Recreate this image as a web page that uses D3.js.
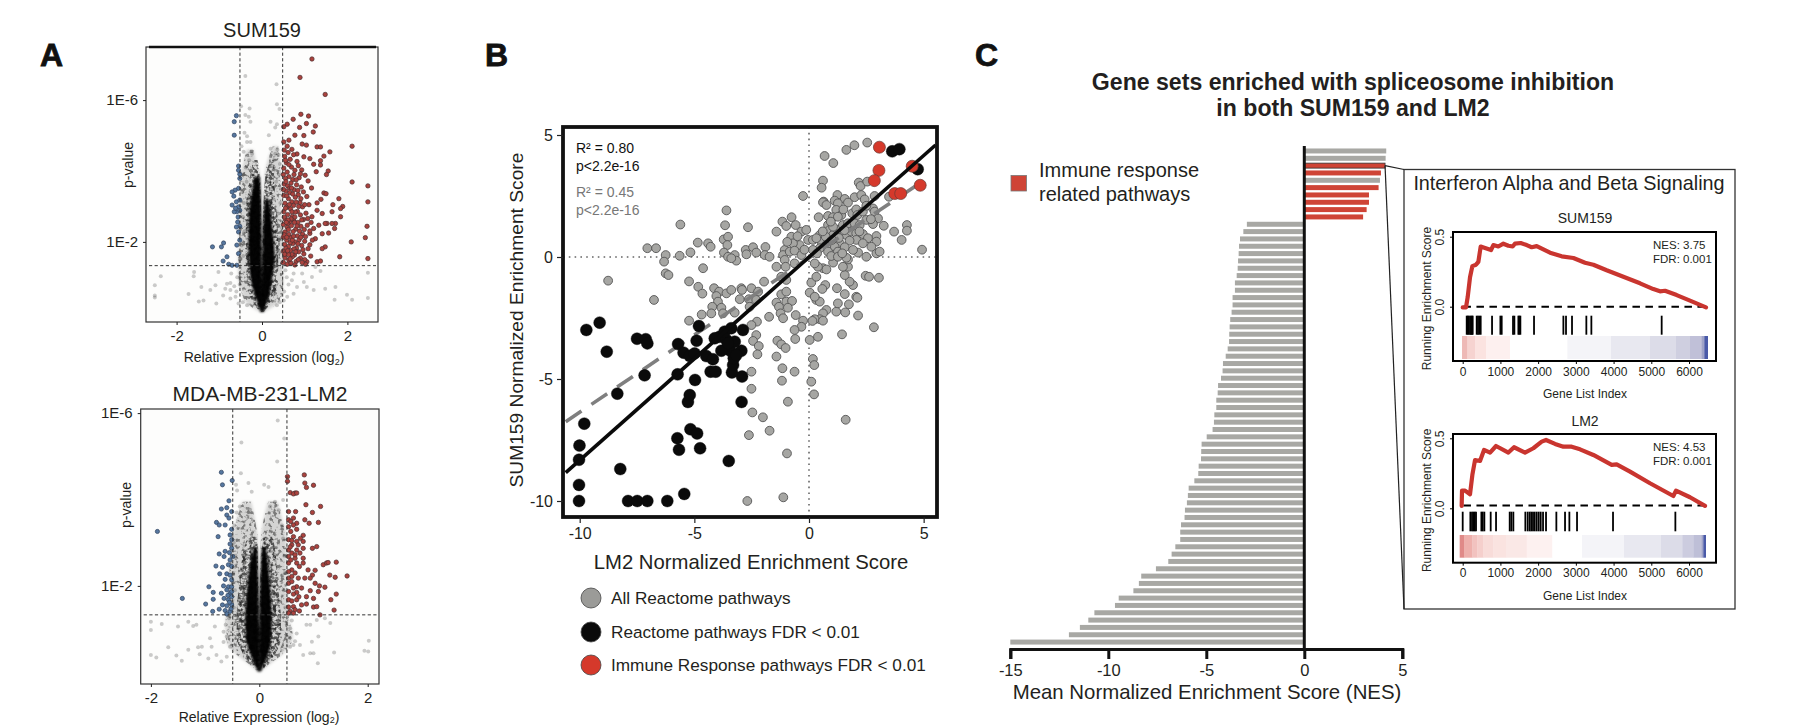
<!DOCTYPE html>
<html><head><meta charset="utf-8">
<script src="https://cdn.jsdelivr.net/npm/d3@7"></script>
<style>html,body{margin:0;padding:0;background:#fff;overflow:hidden}svg{display:block}text{font-family:"Liberation Sans",Arial,sans-serif;fill:#231f20}</style>
</head><body><svg id="c" width="1798" height="726"></svg>
<script>
// ---------- Panel A: volcano plots (log2 fold change, -log10 p) ----------
const volTicksX1=[-2,0,2], volTicksX2=[-2,0,2], volTicksY=[2,6], volTickLabels={2:"1E-2",6:"1E-6"};
const volCut={p:1.33,fc1:[-0.516,0.484],fc2:[-0.49,0.51]};
// density envelopes of the saturated cloud [y, outer x, inner x]
const sumCloudL=[
 [[.02,-.04,0],[.26,-.35,0],[.54,-.47,0],[1.01,-.55,-.01],[1.48,-.56,-.01],[1.95,-.54,-.02],[2.89,-.52,-.03],[3.84,-.5,-.04],[4.31,-.42,-.15],[4.6,-.36,-.2]],
 [[.1,-.1,0],[.54,-.3,0],[1.01,-.36,0],[1.95,-.38,-.01],[2.89,-.37,-.02],[3.36,-.33,-.03],[3.84,-.28,-.05],[4.31,-.2,-.1]],
 [[.02,-.04,0],[.26,-.1,0],[.54,-.18,0],[1.01,-.27,-.005],[1.95,-.32,-.01],[2.89,-.3,-.02],[3.36,-.24,-.03],[3.84,-.17,-.05]]];
const sumCloudR=[
 [[.02,.04,0],[.26,.35,0],[.54,.47,0],[1.01,.5,0],[1.95,.5,.01],[2.89,.45,.03],[3.84,.45,.06],[4.31,.42,.14],[4.7,.38,.25]],
 [[.1,.1,0],[.54,.3,0],[1.01,.38,0],[1.95,.38,.01],[2.89,.34,.03],[3.36,.3,.05],[3.84,.28,.08],[4.31,.3,.2]],
 [[.02,.04,0],[.26,.1,0],[.54,.18,0],[1.01,.24,0],[1.48,.3,.01],[1.95,.28,.02],[2.42,.24,.03],[2.89,.2,.05],[3.2,.16,.07]]];
const lmCloudL=[
 [[.02,-.03,0],[.2,-.2,0],[.44,-.45,0],[.83,-.62,0],[1.21,-.62,-.01],[1.6,-.55,-.01],[2.37,-.55,-.02],[3.14,-.5,-.03],[3.53,-.42,-.08],[3.95,-.32,-.15]],
 [[.1,-.08,0],[.44,-.3,0],[.83,-.42,0],[1.21,-.42,-.01],[1.98,-.38,-.02],[2.76,-.3,-.03],[3.14,-.22,-.05]],
 [[.02,-.03,0],[.2,-.09,0],[.44,-.17,0],[.83,-.25,-.003],[1.21,-.26,-.01],[1.98,-.22,-.02],[2.5,-.17,-.03],[2.9,-.1,-.04]]];
const lmCloudR=[
 [[.02,.03,0],[.2,.2,0],[.44,.45,0],[.83,.62,0],[1.21,.55,.005],[1.6,.52,.01],[2.37,.5,.02],[3.14,.5,.03],[3.53,.42,.08],[3.95,.34,.16]],
 [[.1,.08,0],[.44,.3,0],[.83,.4,0],[1.21,.4,.005],[1.98,.35,.015],[2.76,.3,.04],[3.14,.25,.08]],
 [[.02,.03,0],[.2,.09,0],[.44,.17,0],[.83,.22,0],[1.21,.23,.005],[1.98,.2,.015],[2.5,.16,.03],[2.9,.12,.05]]];
const sumGrey=[[-.39,6.68],[.34,6.45],[.35,5.88],[-.49,5.83],[-.29,5.76],[.41,5.75],[.2,5.39],[-.39,5.58],[-.31,5.53],[-.27,5.39],[.35,5.32],[.31,5.23],[-.41,5.08],[-.35,4.98],[.16,5.01],[-.27,4.82],[-.35,4.82],[-.48,4.7],[-.23,4.49],[-.43,4.54],[.2,4.63],[.31,4.49],[.39,4.45],[.36,4.6],[.28,4.3],[.42,4.2],[-.3,4.3],[-.38,4.1],[-.44,3.9],[-.36,3.7],[.4,3.9],[.33,3.7],[.44,3.5],[-.47,3.4],[-.42,3.1],[.43,3.1],[.38,2.8],[-.45,2.7],[-.41,2.3],[.46,2.4],[.41,2.1],[-.48,1.9],[-.44,1.6],[.42,1.7],[.47,1.4],
 [-2.37,1.03],[-2.51,.78],[-2.51,.49],[-2.51,.43],[-1.59,1.15],[-1.6,1.03],[-1.72,.53],[-1.42,.73],[-1.48,.32],[-1.37,.35],[-1.07,.26],[-1.21,.64],[-1.09,.78],[-1.02,1.15],[-.91,.49],[-.82,.82],[-.74,.84],[-.72,1.11],[-.86,.68],[-.74,.64],[-.65,.75],[-.62,.45],[-.74,.4],[-.55,.26],[-.35,.21],[.55,1.2],[.74,1.11],[.94,1.11],[1.17,1.01],[1.25,1.29],[1.37,1.18],[.7,.92],[.98,.87],[.82,.73],[1.05,.73],[1.21,.64],[.74,.54],[.59,.45],[.51,.35],[1.48,.68],[1.72,.73],[1.7,.37],[1.99,.51],[2.11,.37],[2.48,1.13],[2.48,.42],[.35,.21],[-.58,1],[-.52,.8],[-.6,.6],[.58,1],[.62,.8],[.52,.6],[.42,.3],[-.45,.3]];
const sumBlue=[[-.6,5.56],[-.65,5.39],[-.65,5.01],[-.55,4.14],[-.55,4.02],[-.52,3.91],[-.52,3.79],[-.55,3.51],[-.63,3.46],[-.7,3.41],[-.66,3.29],[-.6,3.13],[-.7,3.04],[-.55,2.99],[-.59,2.85],[-.65,2.85],[-.57,2.56],[-.52,2.44],[-.6,2.42],[-.55,2.28],[-.52,2.05],[-.59,1.91],[-.9,1.97],[-.95,1.86],[-1.16,1.86],[-.55,1.67],[-.82,1.58],[-.91,1.46],[-.78,1.37],[-.7,1.34],[-.59,1.34],[-.52,2.89],[-.52,3.18],[-.56,2.7],[-.62,2.95]];
const sumRed=[[1.17,7.16],[.89,6.64],[1.48,6.16],[.91,5.6],[1.09,5.55],[.73,5.46],[.59,5.32],[.51,5.25],[1.04,5.34],[.88,5.23],[1.25,5.27],[1.2,5.1],[.98,5],[.77,5.01],[.63,4.87],[.51,4.82],[.59,4.7],[.94,4.76],[1.04,4.73],[1.29,4.68],[1.37,4.68],[2.11,4.7],[1.59,4.54],[1.45,4.42],[1.37,4.29],[1.21,4.19],[1.12,4.35],[.98,4.4],[.82,4.48],[.7,4.61],[.52,4.59],[1.55,4],[1.51,3.9],[1.27,3.98],[1.37,4.17],[2.11,3.69],[2.48,3.58],[2.48,3.13],[2.46,2.44],[2.42,2.12],[2.09,2],[2.48,1.53],[1.82,1.58],[1.8,3.22],[1.66,3.05],[1.89,3],[1.84,2.94],[1.64,2.85],[1.84,2.71],[1.72,2.52],[1.64,2.52],[1.7,2.38],[1.52,2.52],[1.45,3.38],[1.5,3.36],[1.38,3.2],[1.29,3.1],[1.29,2.89],[1.41,2.8],[1.17,2.71],[1.33,2.47],[1.48,2.52],[1.21,2.38],[1.41,2.23],[1.56,2.25],[1.12,2.24],[1.25,2.09],[1.48,1.86],[1.41,1.81],[1.29,1.44],[1.37,1.46],[1.05,1.44],[1.02,1.37],
 [.53,4.41],[.61,4.52],[.57,4.23],[.66,4.33],[.74,4.46],[.51,4.08],[.69,4.11],[.59,3.97],[.82,4.27],[.93,4.03],[.77,4.02],[.63,3.84],[.55,3.79],[.87,3.81],[.72,3.76],[1.01,3.88],[.52,3.63],[.6,3.58],[.68,3.66],[.81,3.61],[.92,3.55],[1.08,3.72],[1.16,3.52],[.56,3.44],[.65,3.39],[.75,3.47],[.85,3.33],[.51,3.31],[.97,3.41],[1.05,3.28],[.62,3.22],[.7,3.13],[.54,3.09],[.78,3.26],[.89,3.11],[.58,2.98],[.67,2.93],[.74,3.03],[.83,2.86],[.95,2.99],[1.1,3.05],[.51,2.85],[.6,2.77],[.71,2.72],[.78,2.84],[.9,2.76],[1.03,2.81],[.55,2.63],[.65,2.57],[.74,2.61],[.84,2.55],[.97,2.63],[.5,2.49],[.59,2.41],[.69,2.46],[.79,2.36],[.91,2.44],[1.06,2.47],[.54,2.28],[.63,2.21],[.73,2.29],[.83,2.17],[.95,2.22],[1.12,2.31],[.5,2.13],[.58,2.05],[.68,2.12],[.77,2],[.87,2.06],[1,2.02],[.53,1.93],[.62,1.87],[.72,1.95],[.81,1.83],[.93,1.9],[1.08,1.81],[.5,1.74],[.58,1.69],[.67,1.76],[.76,1.63],[.86,1.72],[.98,1.66],[.54,1.55],[.63,1.49],[.71,1.58],[.8,1.45],[.9,1.54],[.5,1.42],[.59,1.37],[.68,1.4],[.77,1.35],[.56,3.7],[.64,3.05],[.52,2.7],[.6,2.52],[.52,2.2],[.66,1.98],[.56,1.82],[.7,1.65],[.62,1.64],[.75,1.8],[.82,2.45],[.88,2.3],[.76,2.55],[.7,2.85],[.86,3],[.93,2.62],[.99,2.35],[1.02,2.15],[1.15,2.55],[1.14,1.6],[1.18,2.05],
 [.55,4.3],[.5,3.9],[.58,3.3],[.65,3.52],[.72,3.35],[.8,3.12],[.77,2.7],[.68,2.65],[.62,2.35],[.71,2.05],[.79,1.72],[.85,1.5],[.6,1.75],[.66,1.52],[.55,2.95],[.5,3.48],[.61,2.62],[.53,1.65],[.58,2.13],[.74,2.16],[.84,1.95],[.91,2.13],[.96,1.78],[1,1.5],[.94,1.42],[.69,3.52],[.57,2.55],[.84,3.45],[.91,3.22],[1,3.05],[1.07,2.66],[1.12,1.92],[.75,3.9],[.8,3.75],[.63,4.18],[.85,4.15],[.9,3.92]];
const lmGrey=[[.34,5.83],[-.33,5.32],[.46,5.41],[.33,4.88],[-.34,4.61],[-.2,4.38],[-.43,4.34],[.09,4.34],[.17,4.29],[-.41,4.21],[-.14,4.18],[.44,3.99],[.29,3.95],[-.36,3.84],[-.17,3.76],[.2,3.84],[-.42,3.7],[.36,3.75],[-.46,3.4],[.42,3.4],[-.47,3],[.44,3.1],[-.44,2.7],[.46,2.7],[-.48,2.3],[.47,2.3],[-.45,1.9],[.45,1.9],[-.47,1.5],[.48,1.5],
 [-2,1.17],[-2,.98],[-1.8,1.12],[-2,.4],[-1.9,.34],[-1.68,.58],[-1.53,.39],[-1.43,.27],[-1.5,1.06],[-1.31,1.17],[-1.22,1.07],[-1.16,1.1],[-1.31,.52],[-1.13,.58],[-1.06,.59],[-1.1,.42],[-.94,.32],[-.91,.79],[-.88,.59],[-.82,1.06],[-.79,.4],[-.7,.25],[-.66,.94],[-.6,.83],[-.54,.59],[-.6,.36],[.57,1.02],[.69,.9],[.87,1.1],[.94,1.1],[1.06,1.21],[1.21,1.25],[1.31,1.14],[1.09,.83],[.97,.71],[.75,.63],[.63,.63],[.57,.59],[.81,.4],[.94,.44],[1,.44],[1.08,.21],[1.38,.46],[1.94,.5],[2.01,.48],[2.02,.73],[-.62,1.1],[-.56,1.25],[-.66,.7],[.6,1.2],[.56,.8],[.66,.72]];
const lmBlue=[[-.7,4.63],[-.5,4.44],[-.68,4.34],[-.56,3.97],[-.7,3.78],[-.6,3.81],[-.51,3.72],[-.6,3.64],[-.56,3.57],[-.79,3.47],[-.74,3.41],[-.63,3.41],[-1.88,3.26],[-.51,3.31],[-.54,3.18],[-.76,3.14],[-.51,3.07],[-.54,2.97],[-.51,2.87],[-.63,2.8],[-.74,2.74],[-.55,2.77],[-.49,2.68],[-.65,2.68],[-.54,2.6],[-.8,2.46],[-.68,2.43],[-.57,2.49],[-.51,2.45],[-.73,2.28],[-.6,2.28],[-.54,2.25],[-.51,2.14],[-.63,2.15],[-.93,1.98],[-.85,1.85],[-.66,2],[-.57,1.98],[-.51,1.98],[-.7,1.83],[-.6,1.91],[-.54,1.83],[-.51,1.87],[-1.42,1.71],[-.85,1.69],[-.65,1.71],[-.57,1.68],[-.99,1.58],[-.68,1.56],[-.6,1.54],[-.51,1.56],[-.74,1.46],[-.86,1.41],[-.63,1.43],[-.54,1.41],[-.6,1.35],[-.51,1.75],[-.58,1.78],[-.55,1.62],[-.52,1.47]];
const lmRed=[[.83,4.57],[.52,4.53],[.84,4.38],[1,4.33],[.52,4.42],[.87,4.28],[.57,4.16],[.66,4.15],[.63,4.13],[.69,4.15],[.86,3.88],[1.13,3.84],[.54,3.72],[.98,3.7],[.67,3.72],[.63,3.57],[.84,3.53],[1.09,3.47],[.92,3.45],[.54,3.53],[.58,3.49],[.69,3.45],[.63,3.41],[.54,3.37],[.69,3.31],[.58,3.26],[.81,3.17],[.63,3.14],[.76,3.1],[.54,3.07],[.69,3.03],[.81,3.03],[.6,2.95],[1.06,2.91],[.98,2.87],[.81,2.87],[.69,2.83],[.54,2.83],[.6,2.76],[.75,2.76],[.54,2.68],[.66,2.64],[.81,2.64],[.69,2.53],[1.18,2.49],[1.24,2.53],[1.27,2.54],[1.42,2.55],[.54,2.53],[.81,2.53],[.6,2.37],[.54,2.33],[.9,2.37],[1.03,2.36],[1.3,2.25],[1.4,2.2],[1.62,2.23],[.98,2.25],[.84,2.18],[.72,2.18],[.54,2.18],[.6,2.22],[.94,2.18],[.54,2.06],[1.03,2.06],[1.11,2],[1.21,1.97],[.69,1.98],[.78,1.95],[.63,1.95],[.54,1.87],[.94,1.89],[.69,1.85],[1.09,1.87],[1.42,1.81],[.63,1.81],[.87,1.75],[1,1.71],[1.32,1.68],[.54,1.68],[.69,1.68],[.78,1.56],[.87,1.58],[.63,1.52],[.54,1.51],[1,1.51],[1.06,1.52],[1.38,1.44],[.57,1.41],[.63,1.37],[1.12,1.33],[.54,1.37],[.6,3.05],[.72,2.95],[.57,2.9],[.66,2.72],[.74,2.45],[.58,2.6],[.66,2.3],[.6,2.1],[.73,1.75],[.6,1.65],[.66,1.45],[.74,1.42]];
// ---------- Panel B: NES scatter (LM2, SUM159) ----------
const nesTicksX=[-10,-5,0,5], nesTicksY=[-10,-5,0,5];
const fitAll=[[-10.61,-8.84],[5.52,4.59]], fitGrey=[[-10.61,-6.75],[5.04,3.16]];
const allPathways=[[1.63,4.39],[1.98,4.58],[2.54,4.69],[.68,4.14],[1.06,3.85],[.61,3.13],[.55,2.84],[-.26,2.5],[2.17,3.05],[2.25,2.91],[2.54,3.09],[.64,2.27],[.61,2.24],[1.24,2.54],[1.12,2.31],[1.56,2.38],[1.99,2.45],[2.28,2.54],[2.43,2.36],[2.86,2.5],[3.49,2.47],[.76,2.13],[1.26,2.2],[1.7,2.23],[.42,1.63],[.83,1.68],[1.19,1.93],[1.41,1.72],[1.05,1.63],[1.89,1.79],[2.06,1.95],[2.11,1.72],[2.35,1.86],[2.79,1.99],[2.86,1.86],[3.01,1.58],[2.79,1.35],[3.26,1.28],[3.71,1.04],[4.27,1.31],[4.27,1.08],[4.04,.7],[4.93,.3],[2.94,.86],[2.94,.63],
[-7.05,.36],[-6.67,.36],[-6.25,.08],[-6.32,-.19],[-5.64,.05],[-5.61,1.33],[-8.76,-.97],[-6.25,-.67],[-6.13,-.74],[-6.76,-1.76],[-5.17,.19],[-4.85,.59],[-4.4,.56],[-4.29,.42],[-5.23,-1],[-4.83,-1.22],[-4.62,-.46],[-4.65,-1.5],[-3.6,1.91],[-3.66,1.3],[-2.66,1.22],[-3.72,.72],[-3.53,.83],[-3.56,.49],[-3.71,.18],[-3.53,.01],[-3.24,.08],[-3.17,-.15],[-3.39,-.05],[-2.76,.29],[-2.73,.11],[-2.44,.4],[-2.3,.18],[-1.9,.41],[-1.93,.08],[-1.72,.01],[-1.42,1.04],[-1.16,1.45],[-.76,1.63],[-.99,1.27],[-.58,1.31],[-.77,.83],[-.33,1.04],[-.12,1.11],[-.04,.7],[-.41,.49],[-.7,.56],[-1.06,.29],[-1.13,.08],[-.84,.22],[-.63,.26],[-.33,.08],[-1.06,-.12],[-1.42,-.4],[-1.02,-.4],[-.63,-.26],[-1.21,-.81],[-.99,-.94],[-1.96,-1.01],
[-4.14,-1.28],[-3.92,-1.42],[-4.04,-1.6],[-3.6,-1.49],[-3.39,-1.35],[-2.95,-1.28],[-2.92,-1.35],[-2.51,-1.28],[-2.22,-1.42],[-3.02,-1.73],[-2.62,-1.73],[-2.3,-1.76],[-3.97,-1.83],[-4.22,-2.04],[-3.82,-2.08],[-4.26,-2.31],[-4.68,-2.36],[-3.75,-2.31],[-3.24,-2.28],[-5.23,-2.61],[-2.59,-2.04],[-1.21,-1.53],[-.99,-1.42],[-1.42,-1.87],[-1.31,-2.04],[-.99,-1.83],[-.74,-1.8],[-.92,-2.08],[-1.24,-2.31],[-1.13,-2.51],[-1.74,-2.45],[-.58,-2.38],[-.26,-2.61],[-.33,-2.86],[-.63,-2.99],[-2.27,-2.65],[-2.51,-2.79],[-2.3,-3.2],[-2.44,-3.44],[-2.19,-3.65],[-2.25,-3.99],[-1.38,-3.43],[-1.21,-3.58],[-1.02,-3.73],[-.6,-3.36],[.03,-3.4],[.39,-3.27],[1.44,-3.17],[2.83,-2.88],
[-1.42,-4.08],[-1.16,-4.56],[-.63,-4.7],[-1.18,-5.07],[-2.51,-4.7],[-2.51,-5.4],[-.92,-5.93],[.17,-4.18],[.23,-4.43],[.1,-5.11],[.22,-5.63],[1.6,-6.67],[-2.47,-6.37],[-2.01,-6.57],[-2.62,-7.3],[-1.72,-7.12],[-.96,-8.05],[-2.69,-10],[-1.12,-9.85],
[.03,-1.46],[.32,-1.76],[.47,-1.83],[.25,-1.63],[.76,-2.17],[.61,-2.31],[.47,-2.55],[.25,-2.55],[.15,-2.62],[.61,-2.61],[1.19,-2.24],[1.26,-1.9],[1.58,-2.27],[1.74,-1.94],[2.14,-2.4],[1.22,-1.28],[1.56,-1.52],[2.06,-1.63],[2.11,-1.67],[1.92,-1.15],[1.77,-1.01],[1.56,-.74],[1.7,-.4],[1.48,-.4],[2.47,-.77],[2.62,-.81],[3.05,-.85],[.71,-1.15],[.58,-1.31],[.1,-1.05],[.32,-.81],[.61,-.46],[.76,-.51],[.39,-.4],[.25,-.26],[1.05,-.23],[1.7,-.1],[1.63,-.03],[2.94,.15],[3.08,.22],[2.5,.01],[2.14,.18],[2.72,.42],
[.17,.7],[.47,.9],[.54,.63],[.83,1.31],[.9,1.11],[1.05,.9],[1.26,1.11],[1.48,1.31],[1.63,.9],[1.85,1.04],[2.06,.97],[2.35,.94],[2.57,.77],[2.06,.7],[1.77,.67],[1.34,.56],[1.12,.42],[.76,.49],[.47,.36],[.83,.22],[1.26,.22],[1.56,.4],[.97,.04],[1.26,.01],[1.92,.29],[2.35,.56],[1.7,1.38],[1.99,1.38],[1.26,1.65],[2.5,1.52],[2.21,1.31],[.73,.83],[.32,.77],[.17,.29],[1.05,1.24],[2.5,2.1],[1.5,1.95],[.95,1.45],[1.55,1.1],[1.3,.78],[2.2,1.05],[2.7,1.55],[.6,1.05],[1,.7],[1.45,.15],[.35,.15],[-.2,.3],[-.5,.85],[-.95,.62]];
const fdrPathways=[[-9.71,-2.99],[-9.13,-2.69],[-8.82,-3.88],[-7.5,-3.35],[-7.12,-3.37],[-7.05,-3.54],[-7.17,-4.85],[-8.36,-5.6],[-9.8,-6.83],[-10.01,-7.73],[-10.03,-8.31],[-10.03,-9.34],[-10.03,-10],[-8.23,-8.69],[-7.89,-10],[-7.49,-10],[-7.05,-10],[-6.18,-10],[-5.44,-9.71],[-3.5,-8.36],[-4.75,-7.84],[-5.67,-7.9],[-5.74,-7.43],[-5.17,-7.06],[-4.88,-7.23],[-5.28,-5.94],[-5.2,-5.66],[-4.97,-5.04],[-5.73,-4.81],[-2.94,-5.94],[-2.92,-4.9],[-3.36,-4.73],[-3.31,-4.43],[-3.28,-4.15],[-2.95,-3.84],[-3.43,-3.84],[-3.82,-3.84],[-3.24,-3.47],[-3.6,-3.4],[-3.9,-3.27],[-4.11,-3.33],[-3.68,-3.06],[-3.39,-2.92],[-2.88,-2.99],[-4.8,-2.83],[-4.9,-3.43],[-5.71,-3.57],[-5.47,-3.92],[-5.2,-4.06],[-4.99,-3.95],[-4.48,-4.06],[-4.19,-4.19],[-4.29,-4.7],[-4.07,-4.7],[-3.53,-3.54],[-3.17,-4.02],[3.63,4.33],[3.94,4.42],[4.74,3.6]];
const immunePathways=[[3.07,4.5],[3.05,3.55],[2.85,3.13],[3.74,2.6],[4,2.6],[4.5,3.72],[4.85,2.94]];
const statText=[["R² = 0.80","#111"],["p<2.2e-16","#111"],["R² = 0.45","#777"],["p<2.2e-16","#777"]];
const legendB=[["All Reactome pathways","#9b9b98"],["Reactome pathways FDR < 0.01","#0a0a0a"],["Immune Response pathways FDR < 0.01","#d5392b"]];
// ---------- Panel C: bars ----------
const barUp=[4.18,4.15,4.12,3.91,3.86,3.79,3.3,3.3,3.18,3.0];
const barUpImmune=[0,0,1,1,0,1,1,1,1,1];
const barDown=[-2.93,-3.11,-3.28,-3.33,-3.35,-3.38,-3.4,-3.45,-3.54,-3.54,-3.66,-3.66,-3.71,-3.78,-3.81,-3.83,-3.84,-3.91,-4.01,-4.15,-4.17,-4.25,-4.4,-4.42,-4.49,-4.49,-4.59,-4.61,-4.68,-4.98,-5.24,-5.26,-5.27,-5.39,-5.41,-5.61,-5.9,-5.94,-5.99,-6.09,-6.11,-6.29,-6.33,-6.33,-6.58,-6.77,-6.94,-7.57,-8.32,-8.44,-8.72,-9.47,-9.66,-10.71,-11.02,-11.45,-12.01,-15];
const barTicks=[-15,-10,-5,0,5];
// ---------- GSEA insets ----------
const gseaTicksX=[0,1000,2000,3000,4000,5000,6000], gseaTicksY=[0,.5];
const sumIdx=[0,88,133,194,256,353,415,477,592,751,813,945,1078,1211,1325,1387,1538,1697,1829,1962,2315,2624,2934,3243,3464,3817,4259,4701,5054,5231,5364,5673,6026,6450];
const sumES=[-.005,-.005,.07,.21,.29,.3,.32,.43,.42,.405,.44,.43,.45,.435,.43,.45,.455,.44,.425,.433,.386,.36,.348,.314,.3,.26,.214,.167,.126,.11,.114,.083,.043,-.005];
const sumHits=[106,133,159,194,221,247,265,371,406,442,477,778,999,1034,1334,1370,1476,1502,1529,1891,2669,2739,2898,3278,3411,5275];
const sumBandEdges=[-18,124,327,619,1255,2775,3932,4966,5655,6026,6336,6406,6495];
const sumBandCols=["#eeb9b6","#f6d3d0","#fbe3e0","#fdf0ef","#ffffff","#f4f4f8","#e8e8f0","#dcdce8","#cfcfe0","#c0c0d8","#9fa3c8","#4a5aa8"];
const lmIdx=[-27,-18,62,194,256,327,459,566,725,884,1211,1361,1652,1873,2094,2209,2448,2669,2889,3110,3464,3950,4082,4436,4966,5584,5655,6026,6424];
const lmES=[.017,.126,.126,.1,.238,.345,.338,.417,.398,.445,.398,.436,.398,.429,.476,.488,.46,.44,.44,.421,.381,.31,.314,.262,.179,.088,.126,.079,.017];
const lmHits=[0,203,247,283,318,353,495,530,574,742,884,1246,1290,1343,1661,1723,1776,1820,1864,1909,1962,2015,2068,2130,2209,2483,2713,2828,3031,3985,5638];
const lmBandEdges=[-80,35,256,389,548,813,1149,1697,2377,3163,4277,5258,5823,6115,6336,6380,6442];
const lmBandCols=["#e08a88","#eeb0ac","#f2c2bf","#f5cfcc","#f8dcd9","#fae3e0","#fae8e6","#fdf1f0","#ffffff","#f4f4f8","#e8e8f0","#dcdce8","#ccccdf","#bebfd7","#9fa3c8","#4a5aa8"];

const svg=d3.select("#c");
const defs=svg.append("defs");
defs.append("filter").attr("id","soft").attr("x","-20%").attr("y","-20%").attr("width","140%").attr("height","140%")
  .append("feGaussianBlur").attr("stdDeviation",.9);
defs.append("filter").attr("id","haze").attr("x","-30%").attr("y","-10%").attr("width","160%").attr("height","120%")
  .append("feGaussianBlur").attr("stdDeviation",1.8);
// grain texture for the unresolved cloud of overlapping points
function grain(id,freq,k,b,seed){
  const f=defs.append("filter").attr("id",id).attr("x","-5%").attr("y","-5%").attr("width","110%").attr("height","110%");
  f.append("feTurbulence").attr("type","fractalNoise").attr("baseFrequency",freq).attr("numOctaves",2).attr("seed",seed).attr("result","n");
  f.append("feColorMatrix").attr("in","n").attr("type","matrix").attr("values",`0 0 0 0 0 0 0 0 0 0 0 0 0 0 0 ${k} 0 0 0 ${b}`).attr("result","m");
  f.append("feComposite").attr("in","SourceGraphic").attr("in2","m").attr("operator","in").attr("result","c");
  f.append("feGaussianBlur").attr("in","c").attr("stdDeviation",.75);
}
grain("g1",.26,6,-3,3);grain("g2",.3,5,-2.1,8);
const txt=(x,y,s,size,opt={})=>{const t=svg.append("text").attr("x",x).attr("y",y).attr("font-size",size).attr("text-anchor",opt.anchor||"start").text(s);
  if(opt.bold)t.attr("font-weight","bold");if(opt.fill)t.style("fill",opt.fill);if(opt.rot!==undefined)t.attr("transform",`rotate(${opt.rot} ${x} ${y})`);return t;};

// letters
[["A",40,66],["B",485,66],["C",975,66]].forEach(([s,x,y])=>txt(x,y,s,32,{bold:1}).style("fill","#111").style("stroke","#111").style("stroke-width",.8));

function volcano(o){
  const x=d3.scaleLinear().domain([(o.L-o.x0)/o.ux,(o.R-o.x0)/o.ux]).range([o.L,o.R]);
  const y=d3.scaleLinear().domain([(o.y0-o.B)/o.uy,(o.y0-o.T)/o.uy]).range([o.B,o.T]);
  const g=svg.append("g");
  g.append("rect").attr("x",o.L).attr("y",o.T).attr("width",o.R-o.L).attr("height",o.B-o.T).attr("fill","#fdfdfc");
  const clip="cl"+o.id;defs.append("clipPath").attr("id",clip).append("rect").attr("x",o.L).attr("y",o.T).attr("width",o.R-o.L).attr("height",o.B-o.T);
  const p=g.append("g").attr("clip-path",`url(#${clip})`);
  const area=d3.area().y(d=>y(d[0])).x0(d=>x(d[1])).x1(d=>x(d[2])).curve(d3.curveMonotoneY);
  // haze under the grain, then grain layers, then the saturated core
  [[0,"url(#haze)",.16],[0,"url(#g1)",.42],[1,"url(#g2)",.6],[2,"url(#soft)",.98]].forEach(([i,f,a])=>{
    const layer=p.append("g").attr("filter",f);
    [o.cloudL,o.cloudR].forEach(side=>layer.append("path").attr("d",area(side[i])).attr("fill","#000").attr("fill-opacity",a));});
  p.selectAll(null).data(o.grey).join("circle").attr("cx",d=>x(d[0])).attr("cy",d=>y(d[1])).attr("r",2).attr("fill","#000").attr("fill-opacity",.2);
  p.selectAll(null).data(o.red).join("circle").attr("cx",d=>x(d[0])).attr("cy",d=>y(d[1])).attr("r",2.2).attr("fill","#ab423d").attr("stroke","#4a2f30").attr("stroke-width",.7);
  p.selectAll(null).data(o.blue).join("circle").attr("cx",d=>x(d[0])).attr("cy",d=>y(d[1])).attr("r",2.1).attr("fill","#56779f").attr("stroke","#30445f").attr("stroke-width",.7);
  o.cut.forEach(c=>p.append("line").attr("x1",x(c)).attr("x2",x(c)).attr("y1",o.T).attr("y2",o.B).attr("stroke","#333").attr("stroke-width",1).attr("stroke-dasharray","3.2 2.4"));
  p.append("line").attr("x1",o.L+3).attr("x2",o.R-2).attr("y1",y(volCut.p)).attr("y2",y(volCut.p)).attr("stroke","#333").attr("stroke-width",1).attr("stroke-dasharray","3.2 2.4");
  g.append("rect").attr("x",o.L).attr("y",o.T).attr("width",o.R-o.L).attr("height",o.B-o.T).attr("fill","none").attr("stroke","#333").attr("stroke-width",1.2);
  if(o.thickTop) g.append("line").attr("x1",o.L+3).attr("x2",o.R-2).attr("y1",o.T).attr("y2",o.T).attr("stroke","#111").attr("stroke-width",2.4);
  const ax=g.append("g").attr("transform",`translate(0,${o.B})`).call(d3.axisBottom(x).tickValues(o.ticksX).tickSize(3).tickPadding(5).tickFormat(d=>d<0?"-"+(-d):d));
  const ay=g.append("g").attr("transform",`translate(${o.L},0)`).call(d3.axisLeft(y).tickValues(volTicksY).tickSize(3).tickPadding(5).tickFormat(d=>volTickLabels[d]));
  [ax,ay].forEach(a=>{a.select(".domain").remove();a.selectAll("text").attr("font-size",15).style("font-family",'"Liberation Sans"');a.selectAll("line").attr("stroke","#222");});
  txt(o.titleX,o.titleY,o.title,o.titleSize,{anchor:"middle"});
  txt(o.pX,o.pY,"p-value",14,{anchor:"middle",rot:-90});
  const t=txt(o.xlX,o.xlY,"Relative Expression (log",14,{anchor:"middle"});
  t.append("tspan").text("2").attr("font-size",9).attr("dy",o.subDy);
  t.append("tspan").text(")").attr("dy",-o.subDy);
}
volcano({id:1,L:146,R:378,T:47,B:322,x0:262,ux:42.7,y0:312.8,uy:35.45,cloudL:sumCloudL,cloudR:sumCloudR,grey:sumGrey,red:sumRed,blue:sumBlue,cut:volCut.fc1,ticksX:volTicksX1,thickTop:1,title:"SUM159",titleSize:20,titleX:262,titleY:37,pX:133,pY:165,xlX:264,xlY:362,subDy:3});
volcano({id:2,L:140.7,R:379,T:409,B:684,x0:259.3,ux:54.2,y0:672.3,uy:43.2,cloudL:lmCloudL,cloudR:lmCloudR,grey:lmGrey,red:lmRed,blue:lmBlue,cut:volCut.fc2,ticksX:volTicksX2,title:"MDA-MB-231-LM2",titleSize:21,titleX:260,titleY:401,pX:131,pY:505,xlX:259,xlY:721.5,subDy:1.5});

// Panel B
(function(){
  const L=563,R=937,T=127,B=517;
  const x=d3.scaleLinear().domain([(L-809)/22.93,(R-809)/22.93]).range([L,R]);
  const y=d3.scaleLinear().domain([(257-B)/24.4,(257-T)/24.4]).range([B,T]);
  const g=svg.append("g");
  defs.append("clipPath").attr("id","clb").append("rect").attr("x",L).attr("y",T).attr("width",R-L).attr("height",B-T);
  const p=g.append("g").attr("clip-path","url(#clb)");
  p.append("line").attr("x1",x(0)).attr("x2",x(0)).attr("y1",T).attr("y2",B).attr("stroke","#666").attr("stroke-width",1.6).attr("stroke-dasharray","1.6 4.2");
  p.append("line").attr("x1",L).attr("x2",R).attr("y1",y(0)).attr("y2",y(0)).attr("stroke","#666").attr("stroke-width",1.6).attr("stroke-dasharray","1.6 4.2");
  const dots=(d,r,f,s,sw)=>p.selectAll(null).data(d).join("circle").attr("cx",v=>x(v[0])).attr("cy",v=>y(v[1])).attr("r",r).attr("fill",f).attr("stroke",s).attr("stroke-width",sw);
  dots(allPathways,4.4,"#a6a6a3","#555",.9);
  const line=d3.line().x(d=>x(d[0])).y(d=>y(d[1]));
  p.append("path").attr("d",line(fitGrey)).attr("stroke","#7f7f7f").attr("stroke-width",3.6).attr("stroke-dasharray","19 12").attr("fill","none");
  dots(fdrPathways,6,"#0a0a0a","#0a0a0a",.4);
  dots(immunePathways,6,"#d5392b","#6a3a33",.7);
  p.append("path").attr("d",line(fitAll)).attr("stroke","#0a0a0a").attr("stroke-width",3.6).attr("fill","none");
  g.append("rect").attr("x",L).attr("y",T).attr("width",R-L).attr("height",B-T).attr("fill","none").attr("stroke","#111").attr("stroke-width",3.8);
  const ax=g.append("g").attr("transform",`translate(0,${B})`).call(d3.axisBottom(x).tickValues(nesTicksX).tickSize(6).tickPadding(5).tickFormat(d=>d<0?"-"+(-d):d));
  const ay=g.append("g").attr("transform",`translate(${L},0)`).call(d3.axisLeft(y).tickValues(nesTicksY).tickSize(6).tickPadding(4).tickFormat(d=>d<0?"-"+(-d):d));
  [ax,ay].forEach(a=>{a.select(".domain").remove();a.selectAll("text").attr("font-size",16).style("font-family",'"Liberation Sans"');a.selectAll("line").attr("stroke","#222").attr("stroke-width",1.2);});
  txt(751,569,"LM2 Normalized Enrichment Score",20.3,{anchor:"middle"});
  txt(523,320,"SUM159 Normalized Enrichment Score",19.2,{anchor:"middle",rot:-90});
  statText.forEach((s,i)=>txt(576,[153,171,197,215][i],s[0],14,{fill:s[1]}));
  legendB.forEach((l,i)=>{const yy=[598,632,665][i];
    g.append("circle").attr("cx",591).attr("cy",yy).attr("r",10).attr("fill",l[1]).attr("stroke","#444").attr("stroke-width",.8);
    txt(611,yy+6,l[0],17.2);});
})();

// Panel C
(function(){
  const x=d3.scaleLinear().domain([-15,5]).range([1010.3,1402.3]);
  const all=barUp.concat(barDown);
  const y=d3.scaleBand().domain(d3.range(all.length)).range([147.3,147.3+7.33*all.length]).paddingInner(.32).paddingOuter(.16);
  svg.append("g").selectAll(null).data(all).join("rect")
    .attr("x",d=>Math.min(x(d),x(0))).attr("width",d=>Math.abs(x(d)-x(0))).attr("y",(d,i)=>y(i)).attr("height",y.bandwidth())
    .attr("fill",(d,i)=>barUpImmune[i]?"#cf4436":"#a8a8a4");
  svg.append("rect").attr("x",x(0)).attr("width",x(barUp[2])-x(0)).attr("y",y(2)).attr("height",y.bandwidth()).attr("fill","none").attr("stroke","#333").attr("stroke-width",.8);
  svg.append("line").attr("x1",x(0)).attr("x2",x(0)).attr("y1",146).attr("y2",649).attr("stroke","#111").attr("stroke-width",3);
  const ax=svg.append("g").attr("transform","translate(0,649)").call(d3.axisBottom(x).tickValues(barTicks).tickSize(10).tickPadding(5).tickFormat(d=>d<0?"-"+(-d):d));
  ax.select(".domain").attr("stroke","#111").attr("stroke-width",3);
  ax.selectAll("line").attr("stroke","#111").attr("stroke-width",3);
  ax.selectAll("text").attr("font-size",16.5).style("font-family",'"Liberation Sans"');
  txt(1207,699,"Mean Normalized Enrichment Score (NES)",20.4,{anchor:"middle"});
  txt(1353,89.5,"Gene sets enriched with spliceosome inhibition",23.1,{anchor:"middle",bold:1});
  txt(1353,115.5,"in both SUM159 and LM2",23.1,{anchor:"middle",bold:1});
  svg.append("rect").attr("x",1011).attr("y",175.5).attr("width",15.5).attr("height",15.5).attr("fill","#cf4436").attr("stroke","#777").attr("stroke-width",.8);
  txt(1039,177,"Immune response",20);txt(1039,201,"related pathways",20);
  // inset box + leader lines
  svg.append("rect").attr("x",1404).attr("y",169.5).attr("width",331).attr("height",439.5).attr("fill","#fff").attr("stroke","#333").attr("stroke-width",1.3);
  const ly=y(2)+y.bandwidth()/2;
  svg.append("line").attr("x1",x(barUp[2])).attr("y1",ly).attr("x2",1404).attr("y2",169.5).attr("stroke","#222").attr("stroke-width",1.2);
  svg.append("line").attr("x1",x(barUp[2])).attr("y1",ly).attr("x2",1404).attr("y2",609).attr("stroke","#222").attr("stroke-width",1.2);
  txt(1569,190,"Interferon Alpha and Beta Signaling",19.8,{anchor:"middle"});
})();

function gsea(o){
  const L=1453,R=1716;
  const x=d3.scaleLinear().domain([(L-1462.7)/.03772,(R-1462.7)/.03772]).range([L,R]);
  const y=d3.scaleLinear().domain([(o.y0-o.B)/140,(o.y0-o.T)/140]).range([o.B,o.T]);
  const g=svg.append("g");
  o.edges.slice(0,-1).forEach((e,i)=>g.append("rect").attr("x",x(e)).attr("width",x(o.edges[i+1])-x(e)+.3).attr("y",o.sT).attr("height",o.sB-o.sT).attr("fill",o.cols[i]));
  g.selectAll(null).data(o.hits).join("line").attr("x1",d=>x(d)).attr("x2",d=>x(d)).attr("y1",o.rT).attr("y2",o.rB).attr("stroke","#000").attr("stroke-width",1.8);
  g.append("line").attr("x1",x(20)).attr("x2",x(6450)).attr("y1",y(o.zero)).attr("y2",y(o.zero)).attr("stroke","#000").attr("stroke-width",2).attr("stroke-dasharray","7.5 5.5");
  g.append("path").attr("d",d3.line().x((d,i)=>x(o.idx[i])).y(d=>y(d))(o.es)).attr("fill","none").attr("stroke","#c9352f").attr("stroke-width",4.2).attr("stroke-linejoin","round").attr("stroke-linecap","round");
  g.append("rect").attr("x",L).attr("y",o.T).attr("width",R-L).attr("height",o.B-o.T).attr("fill","none").attr("stroke","#000").attr("stroke-width",2);
  const ax=g.append("g").attr("transform",`translate(0,${o.B})`).call(d3.axisBottom(x).tickValues(gseaTicksX).tickSize(3).tickPadding(3).tickFormat(d3.format("d")));
  const ay=g.append("g").attr("transform",`translate(${L},0)`).call(d3.axisLeft(y).tickValues(gseaTicksY).tickSize(3).tickPadding(3).tickFormat(d3.format(".1f")));
  [ax,ay].forEach(a=>{a.select(".domain").remove();a.selectAll("text").attr("font-size",12).style("font-family",'"Liberation Sans"');a.selectAll("line").attr("stroke","#000");});
  ay.selectAll("text").attr("text-anchor","middle").attr("x",null).attr("dy",null).attr("transform",d=>`translate(-9,0) rotate(-90)`);
  txt(1585,o.titleY,o.title,14,{anchor:"middle"});
  txt(1653,o.T+17,"NES: "+o.nes,11.5);txt(1653,o.T+31,"FDR: 0.001",11.5);
  txt(1431,(o.T+o.B)/2+2,"Running Enrichment Score",12,{anchor:"middle",rot:-90});
  txt(1585,o.B+37,"Gene List Index",12,{anchor:"middle"});
}
gsea({T:232,B:361,y0:306.7,idx:sumIdx,es:sumES,hits:sumHits,edges:sumBandEdges,cols:sumBandCols,sT:336,sB:359,rT:315.7,rB:334.7,zero:0,title:"SUM159",titleY:223,nes:"3.75"});
gsea({T:434,B:562.7,y0:508.3,idx:lmIdx,es:lmES,hits:lmHits,edges:lmBandEdges,cols:lmBandCols,sT:535,sB:557.7,rT:511.7,rB:531.3,zero:.02,title:"LM2",titleY:426,nes:"4.53"});
</script></body></html>
